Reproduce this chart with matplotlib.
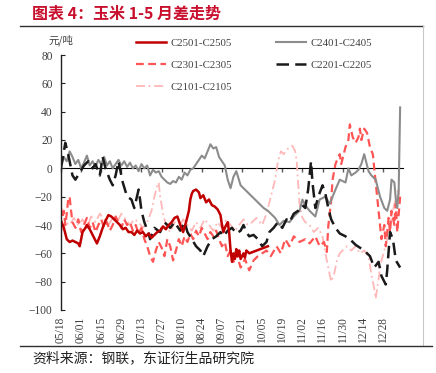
import matplotlib
matplotlib.use("Agg")
import matplotlib.pyplot as plt
from matplotlib.lines import Line2D

# x = days after 05/18, y = spread (元/吨)
tick_labels = ['05/18', '06/01', '06/15', '06/29', '07/13', '07/27', '08/10', '08/24',
               '09/07', '09/21', '10/05', '10/19', '11/02', '11/16', '11/30', '12/14', '12/28']

c2501_d = [0, 2, 4, 6, 8, 10, 12, 13, 15, 17, 18, 20, 22, 24, 25, 27, 29, 31, 33, 35, 37, 39, 41,
           43, 45, 47, 49, 51, 53, 55, 57, 59, 61, 63, 65, 67, 69, 71, 73, 75, 77, 79, 81, 83, 85,
           87, 89, 90, 91, 92, 94, 96, 97, 99, 101, 103, 105, 107, 109, 111, 112, 113, 114, 116,
           117, 118, 119, 120, 121, 122, 123, 124, 125, 127, 128, 129, 131, 144]
c2501_v = [-37, -42, -50, -52, -51, -52, -53, -55, -45, -42, -40, -43, -47, -51, -53, -48, -42,
           -37, -33, -34, -36, -38, -40, -43, -42, -45, -45, -47, -44, -46, -45, -48, -46, -49,
           -47, -45, -44, -41, -43, -40, -38, -35, -34, -40, -45, -38, -30, -22, -18, -16, -15,
           -17, -21, -19, -24, -22, -26, -27, -29, -33, -40, -45, -42, -38, -45, -58, -66, -60,
           -64, -57, -62, -58, -64, -60, -63, -58, -60, -55]

c2401_d = [0, 2, 4, 6, 8, 10, 12, 14, 16, 18, 20, 22, 24, 26, 28, 30, 32, 34, 36, 38, 40, 42, 44,
           46, 48, 50, 52, 54, 56, 58, 60, 62, 64, 66, 68, 70, 72, 74, 76, 78, 80, 82, 84, 86, 88,
           90, 92, 94, 96, 98, 100, 102, 104, 106, 108, 110, 112, 114, 116, 118, 120, 122, 125,
           128, 131, 134, 138, 141, 144, 147, 149, 152, 155, 159, 162, 166, 168, 170, 173, 177,
           180, 184, 187, 191, 194, 198, 200, 202, 205, 207, 209, 211, 214, 216, 219, 222, 225,
           227, 229, 230, 232, 233, 234, 235, 236]
c2401_v = [2, 8, 5, 12, 8, 3, 6, 0, 4, 9, 2, 5, 1, 6, 3, 8, 2, 5, 0, 3, 6, 2, 5, 1, 4, 0, 2, -2,
           3, 0, 2, -5, -1, -3, -2, -6, -8, -10, -11, -9, -10, -6, -8, -3, -5, -1, 0, 3, 6, 9, 7,
           12, 17, 14, 15, 8, 5, 2, -8, -14, -6, -2, -12, -15, -18, -21, -25, -28, -30, -33, -35,
           -40, -37, -38, -34, -30, -22, -26, -30, -34, -22, -20, -25, -15, -8, -10, 0, -5, -3,
           -1, 3, 10, -2, -5, -8, -20, -28, -30, -22, -8, -10, -22, -28, -15, 43]

c2301_d = [0, 1, 2, 3, 4, 5, 6, 7, 8, 10, 12, 14, 16, 18, 20, 22, 24, 26, 28, 30, 32, 34, 36, 38,
           40, 42, 44, 46, 48, 50, 52, 54, 56, 58, 60, 62, 64, 66, 68, 70, 72, 74, 76, 78, 80, 82,
           84, 86, 88, 90, 92, 94, 96, 98, 100, 102, 104, 106, 108, 110, 112, 114, 116, 118, 120,
           122, 125, 128, 131, 134, 137, 140, 143, 146, 150, 153, 156, 159, 162, 166, 170, 173,
           177, 180, 183, 185, 186, 188, 189, 191, 193, 194, 195, 198, 200, 201, 203, 205, 207,
           208, 209, 211, 213, 215, 217, 219, 221, 222, 223, 225, 226, 228, 229, 230, 232, 233,
           234, 236]
c2301_v = [-28, -35, -30, -40, -32, -22, -20, -30, -38, -42, -36, -45, -40, -35, -42, -38, -45,
           -40, -36, -42, -38, -44, -40, -34, -38, -42, -36, -40, -38, -44, -40, -46, -42, -50,
           -55, -62, -66, -58, -52, -56, -62, -50, -55, -65, -58, -50, -55, -48, -52, -46, -50,
           -44, -48, -42, -46, -50, -45, -48, -44, -50, -55, -52, -62, -58, -66, -60, -70, -64,
           -72, -65, -62, -60, -58, -62, -55, -60, -50, -55, -48, -52, -50, -53, -48, -55, -52,
           -59, -41, -23, -8, 3, 8, 10, 3, 15, 20, 31, 22, 18, 22, 28, 20, 28, 25, 15, 10, -10,
           -30, -40, -50, -40, -55, -35, -45, -30, -40, -25, -45, -20]

c2201_d = [0, 3, 5, 8, 10, 13, 16, 19, 22, 24, 27, 29, 31, 34, 36, 38, 40, 41, 43, 46, 49, 51,
           54, 55, 56, 58, 61, 62, 65, 69, 72, 76, 79, 83, 86, 88, 91, 94, 97, 99, 102, 105, 108,
           111, 113, 116, 119, 122, 125, 127, 129, 131, 134, 137, 140, 143, 145, 148, 151, 154,
           157, 159, 162, 165, 168, 170, 172, 174, 175, 177, 179, 182, 184, 186, 188, 191, 194,
           198, 201, 205, 208, 211, 215, 218, 221, 223, 226, 227, 229, 231, 233, 236]
c2201_v = [0, 18, 10, -5, -8, -3, 2, 5, 0, 3, -5, 8, 0, -8, -12, -5, 5, 0, -10, -20, -22, -28,
           -15, -22, -30, -38, -46, -50, -42, -45, -38, -42, -38, -44, -38, -45, -50, -55, -58,
           -62, -55, -50, -48, -45, -48, -44, -42, -46, -44, -40, -45, -48, -47, -50, -55, -52,
           -45, -42, -38, -42, -36, -38, -32, -30, -26, -28, -15, 5, -10, -28, -20, -12, -18,
           -28, -36, -42, -46, -48, -50, -54, -56, -58, -62, -70, -66, -76, -82, -72, -45, -50,
           -65, -70]

c2101_d = [0, 3, 6, 9, 12, 15, 18, 21, 24, 27, 30, 33, 36, 39, 42, 45, 48, 51, 54, 57, 60, 63,
           65, 67, 68, 69, 71, 73, 76, 79, 82, 85, 88, 91, 94, 97, 100, 103, 106, 109, 112, 115,
           118, 121, 124, 127, 130, 133, 136, 140, 143, 146, 149, 151, 153, 155, 157, 159, 161,
           163, 164, 165, 166, 168, 170, 173, 176, 179, 182, 184, 186, 188, 190, 192, 194, 196,
           199, 202, 205, 208, 211, 214, 216, 218, 219, 221, 223, 225, 227, 229, 231, 233, 235,
           236]
c2101_v = [-45, -38, -40, -35, -40, -36, -42, -34, -38, -32, -36, -40, -35, -38, -32, -36, -40,
           -36, -38, -42, -38, -30, -20, -12, -10, -20, -32, -40, -45, -38, -42, -36, -40, -44,
           -38, -42, -36, -40, -44, -38, -42, -36, -40, -44, -40, -36, -40, -38, -35, -40, -32,
           -20, -8, 5, 12, 10, 13, 15, 16, 12, 5, -10, -25, -35, -38, -40, -45, -42, -48, -60,
           -70, -80, -75, -65, -60, -58, -55, -58, -55, -60, -58, -62, -75, -85, -92, -78, -65,
           -58, -50, -40, -30, -20, -15, -25]

plt.rcParams['font.family'] = ['Liberation Serif', 'Noto Sans CJK SC']

fig = plt.figure(figsize=(4.36, 3.73), dpi=100)
ax = fig.add_axes([61 / 436, 1 - 310 / 373, 342 / 436, 255 / 373])

l5, = ax.plot(c2101_d, c2101_v, color='#FFB8B8', lw=1.3, dashes=(5, 2, 1, 2),
              label='C2101-C2105')
l3, = ax.plot(c2301_d, c2301_v, color='#FF5555', lw=1.6, dashes=(3.5, 2),
              label='C2301-C2305')
l2, = ax.plot(c2401_d, c2401_v, color='#8C8C8C', lw=1.5, label='C2401-C2405')
l4, = ax.plot(c2201_d, c2201_v, color='#1A1A1A', lw=1.8, dashes=(5, 2.5),
              label='C2201-C2205')
l1, = ax.plot(c2501_d, c2501_v, color='#C00000', lw=1.8, label='C2501-C2505')

ax.set_xlim(0, 238)
ax.set_ylim(-100, 80)
ax.set_yticks(range(-100, 81, 20))
ax.set_xticks(range(0, 225, 14))
ax.set_xticklabels(tick_labels, rotation=90)
ax.tick_params(axis='x', length=0, pad=5, labelsize=8.3, colors='#404040')
ax.tick_params(axis='y', direction='in', length=3, pad=6, labelsize=8.3,
               colors='#404040')
ax.tick_params(axis='y', color='#202020')
for s in ['top', 'right', 'bottom']:
    ax.spines[s].set_visible(False)
ax.spines['left'].set_color('#202020')
ax.spines['left'].set_linewidth(1.0)

# zero line with upward ticks
zero = ax.secondary_xaxis(100 / 180)
zero.set_xticks(range(0, 225, 14), labels=[''] * len(tick_labels))
zero.tick_params(direction='in', length=3, color='#595959', width=1)
zero.spines['bottom'].set_color('#595959')
zero.spines['bottom'].set_linewidth(1.2)

fig.legend(handles=[l1, l3, l5, l2, l4], ncol=2, frameon=False, loc='upper left',
           bbox_to_anchor=(136 / 436, 1 - 38 / 373), fontsize=7.8, handlelength=2.8,
           handletextpad=0.4, columnspacing=4.0, labelspacing=1.15, borderpad=0,
           borderaxespad=0, labelcolor='#404040')

fig.text(48 / 436, 1 - 40 / 373, '元/吨', fontsize=7.5, family='Noto Sans CJK SC',
         color='#404040', va='center', ha='left')
fig.text(32 / 436, 1 - 14 / 373, '图表 4：玉米 1-5 月差走势', fontsize=11.5,
         family='Noto Sans CJK SC', fontweight='bold', color='#C8102E', va='center')
fig.text(32 / 436, 1 - 358 / 373, '资料来源：钢联，东证衍生品研究院', fontsize=10,
         family='Noto Sans CJK SC', color='#202020', va='center')

fig.add_artist(Line2D([20 / 436, 423 / 436], [1 - 26 / 373, 1 - 26 / 373],
                      color='#303030', lw=1.0))
fig.add_artist(Line2D([423 / 436, 423 / 436], [1 - 26 / 373, 1 - 346 / 373],
                      color='#C8C8C8', lw=0.8))
fig.add_artist(Line2D([20 / 436, 432 / 436], [1 - 346 / 373, 1 - 346 / 373],
                      color='#303030', lw=1.0))

fig.savefig('out.png', dpi=100)
